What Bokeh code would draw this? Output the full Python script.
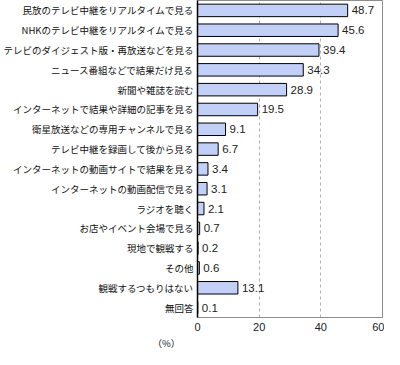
from bokeh.plotting import figure
from bokeh.models import ColumnDataSource, Title, FixedTicker, Range1d
from bokeh.core.properties import value
from bokeh.embed import file_html
from bokeh.resources import INLINE

categories = [
    "民放のテレビ中継をリアルタイムで見る",
    "NHKのテレビ中継をリアルタイムで見る",
    "テレビのダイジェスト版・再放送などを見る",
    "ニュース番組などで結果だけ見る",
    "新聞や雑誌を読む",
    "インターネットで結果や詳細の記事を見る",
    "衛星放送などの専用チャンネルで見る",
    "テレビ中継を録画して後から見る",
    "インターネットの動画サイトで結果を見る",
    "インターネットの動画配信で見る",
    "ラジオを聴く",
    "お店やイベント会場で見る",
    "現地で観戦する",
    "その他",
    "観戦するつもりはない",
    "無回答",
]
values = [48.7, 45.6, 39.4, 34.3, 28.9, 19.5, 9.1, 6.7, 3.4, 3.1, 2.1, 0.7, 0.2, 0.6, 13.1, 0.1]
x_ticks = [0, 20, 40, 60]
labels = [f"{v:.1f}" for v in values]

src = ColumnDataSource(dict(cat=categories, val=values, lab=labels))

p = figure(
    width=384, height=349,
    y_range=list(reversed(categories)),
    x_range=Range1d(0, 60),
    output_backend="svg", toolbar_location=None,
    min_border_left=195, min_border_right=2, min_border_top=0, min_border_bottom=25,
)
p.background_fill_color = "white"
p.border_fill_color = "white"
p.outline_line_color = "#8c8c8c"
p.outline_line_width = 1

p.hbar(y="cat", left=0, right="val", height=0.63, source=src,
       fill_color="#c2cff6", line_color="#000000", line_width=1)

p.text(x="val", y="cat", text="lab", source=src, x_offset=4,
       text_baseline="middle", text_align="left",
       text_font=value("Liberation Sans"), text_font_size="11.5px", text_color="#222222")

# grid
p.ygrid.grid_line_color = None
p.xgrid.ticker = FixedTicker(ticks=[20, 40])
p.xgrid.grid_line_color = "#b0b0b0"
p.xgrid.grid_line_dash = "3 3"
p.xgrid.grid_line_width = 1

# x axis
p.xaxis.ticker = FixedTicker(ticks=x_ticks)
p.xaxis.axis_line_color = "#8c8c8c"
p.xaxis.major_tick_line_color = None
p.xaxis.minor_tick_line_color = None
p.xaxis.major_tick_out = 0
p.xaxis.major_tick_in = 0
p.xaxis.major_label_text_font = "Liberation Sans"
p.xaxis.major_label_text_font_size = "11px"
p.xaxis.major_label_text_color = "#222222"
p.xaxis.major_label_standoff = 5

# y axis
p.yaxis.axis_line_color = "#000000"
p.yaxis.axis_line_width = 1.5
p.yaxis.major_tick_line_color = None
p.yaxis.major_tick_out = 0
p.yaxis.major_tick_in = 0
p.yaxis.major_label_text_font = "Noto Sans CJK JP"
p.yaxis.major_label_text_font_size = "9.5px"
p.yaxis.major_label_text_color = "#111111"
p.yaxis.major_label_standoff = 4

pct = Title(text="（%）", align="left", offset=-45, standoff=0,
            text_font="Noto Sans CJK JP", text_font_size="9.5px",
            text_font_style="normal", text_color="#222222")
p.add_layout(pct, "below")

open("out.html", "w").write(file_html(p, INLINE))
